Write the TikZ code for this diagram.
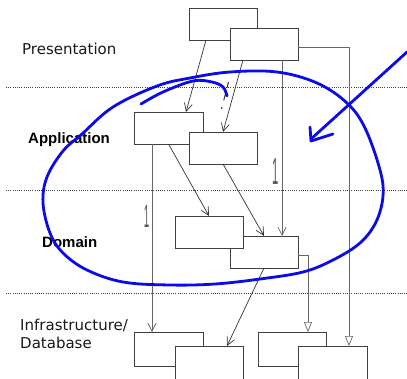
\documentclass[tikz,border=0pt]{standalone}
\usepackage{fontspec}
\setmainfont{DejaVu Sans}
\newfontfamily\layerbold{Liberation Sans}
\usetikzlibrary{arrows.meta}

\definecolor{inkblue}{RGB}{10,10,235}

\begin{document}
\begin{tikzpicture}[x=1pt,y=-1pt,
  box/.style={draw=black!75, line width=1pt, fill=white,
    minimum width=68pt, minimum height=32pt, inner sep=0pt, outer sep=0pt},
  link/.style={draw=black!80, line width=0.7pt,
    -{Straight Barb[length=8pt,width=8pt,line width=0.7pt]}},
  vline/.style={draw=black!60, line width=0.8pt},
  vhead/.style={-{Straight Barb[length=8pt,width=8pt,line width=0.7pt]}},
  tri/.style={-{Triangle[open,length=10pt,width=8pt,line width=0.7pt]}},
  layer/.style={anchor=base west, inner sep=0pt, text=black!90,
    font=\fontsize{15}{18}\selectfont},
  layerb/.style={anchor=base west, inner sep=0pt,
    font=\layerbold\bfseries\fontsize{15}{18}\selectfont},
  mult/.style={inner sep=0pt, text=black!65, font=\layerbold\fontsize{14}{16}\selectfont},
  sep/.style={draw=black!75, line width=0.8pt, dash pattern=on 1pt off 1.2pt},
  pen/.style={draw=inkblue, line width=2.8pt, line cap=round, line join=round}
]
\useasboundingbox (0,0) rectangle (407,378);

% layer separators
\draw[sep] (6,87) -- (407,87);
\draw[sep] (6,190) -- (407,190);
\draw[sep] (6,293) -- (407,293);

% layer names
\node[layer]  at (22,54)  {Presentation};
\node[layerb] at (28,143) {Application};
\node[layerb] at (42,247) {Domain};
\node[layer]  at (20,330) {Infrastructure/};
\node[layer]  at (20,348) {Database};

% presentation classes
\node[box] (P1) at (223,24) {};
\node[box] (P2) at (264,44) {};
% application classes
\node[box, minimum width=69pt] (A1) at (168.5,128) {};
\node[box] (A2) at (223,148) {};
% domain classes
\node[box] (D2) at (264,252) {};
\node[box] (D1) at (209,232) {};
% infrastructure classes
\node[box, minimum width=69pt, minimum height=34pt] (I1) at (168.5,349) {};
\node[box, minimum height=34pt] (I2) at (209,363) {};
\node[box, minimum height=34pt] (I3) at (292,349) {};
\node[box, minimum width=69pt, minimum height=34pt] (I4) at (332.5,363) {};

% dependencies
\draw[link] ([xshift=-17pt]P1.south) -- ([xshift=17.5pt]A1.north);
\draw[link] ([xshift=-21pt]P2.south) -- (A2.north);
\draw[link] (A1.south) -- (D1.north);
\draw[link] (A2.south) -- (D2.north);
\draw[link] (D2.south) -- ([xshift=18pt]I2.north);
\draw[vline, vhead] ([xshift=18pt]P2.south) -- ([xshift=18pt]D2.north);
\draw[vline, vhead] ([xshift=-16.5pt]A1.south) -- ([xshift=-16.5pt]I1.north);
\draw[vline, tri] ([yshift=-3pt]P2.east) -| ([xshift=16.5pt]I4.north);
\draw[vline, tri] ([yshift=-3pt]D2.east) -| ([xshift=16pt]I3.north);

% multiplicities
\node[mult] at (275.5,171.5) {\scalebox{0.8}[2.7]{1}};
\node[mult] at (146.5,216.5) {\scalebox{0.7}[2.3]{1}};

% small broken stroke
\draw[black!80, line width=1pt, dash pattern=on 6pt off 7pt] (228.5,82) -- (221.5,109);

% ink annotations
\draw[pen] plot[smooth cycle, tension=0.6] coordinates {
  (230,72) (277,72) (317,83) (347,103) (365,128) (380,170) (383,196)
  (376,222) (360,243) (333,260) (303,272) (260,279) (215,284) (170,285)
  (123,282) (87,270) (63,253) (50,233) (43,203) (47,177) (63,151)
  (82,134) (113,107) (157,86) (190,78)};
\draw[pen] plot[smooth, tension=0.6] coordinates {
  (141,104) (163,92) (193,81) (212,82) (223,87) (227,96)};
\draw[pen] (407,52) -- (311,139);
\draw[pen] (310,127) -- (311,141) -- (333,134);
\end{tikzpicture}
\end{document}
